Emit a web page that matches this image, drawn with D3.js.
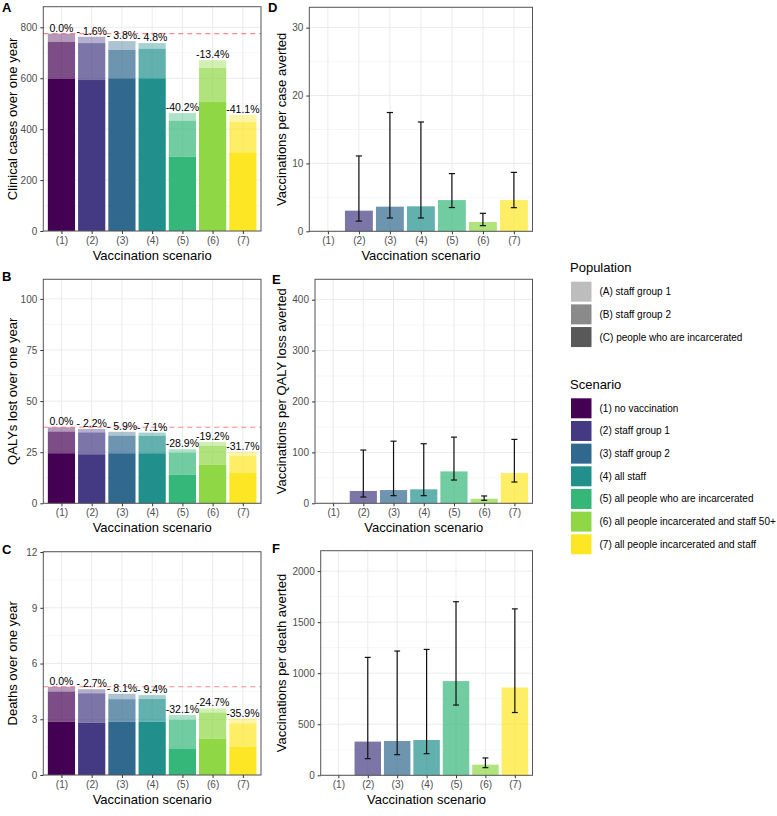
<!DOCTYPE html>
<html><head><meta charset="utf-8">
<script src="https://cdn.jsdelivr.net/npm/d3@7"></script>
<style>body{margin:0;background:#fff}svg{font-family:"Liberation Sans",Arial,sans-serif}</style>
</head><body>
<svg id="c" width="777" height="816"></svg>
<script>
// ---------------- data ----------------
const scenarios = ["(1)","(2)","(3)","(4)","(5)","(6)","(7)"];
const scenarioNames = ["(1) no vaccination","(2) staff group 1","(3) staff group 2","(4) all staff",
  "(5) all people who are incarcerated","(6) all people incarcerated and staff 50+","(7) all people incarcerated and staff"];
const populationNames = ["(A) staff group 1","(B) staff group 2","(C) people who are incarcerated"];
const scenarioColors = ["#440154","#443A83","#31688E","#21908C","#35B779","#8FD744","#FDE725"];

// Panel A: clinical cases (C people incarcerated, B staff group 2, A staff group 1)
const casesPeople = [597,593,600,600,292,507,309];
const casesStaff2 = [146,145,111,116,141,133,119];
const casesStaff1 = [32,25,35,22,30,31,28];
const casesLabels = ["0.0%","- 1.6%","- 3.8%","- 4.8%","-40.2%","-13.4%","-41.1%"];
const casesTicks = [0,200,400,600,800];

// Panel B: QALYs lost
const qalyPeople = [24.5,24.0,24.5,24.5,14.0,18.8,14.8];
const qalyStaff2 = [10.6,10.7,8.6,8.5,10.8,9.4,8.4];
const qalyStaff1 = [2.1,1.7,1.9,1.6,1.65,1.85,2.0];
const qalyLabels = ["0.0%","- 2.2%","- 5.9%","- 7.1%","-28.9%","-19.2%","-31.7%"];
const qalyTicks = [0,25,50,75,100];

// Panel C: deaths
const deathPeople = [2.87,2.82,2.87,2.87,1.40,1.96,1.51];
const deathStaff2 = [1.62,1.58,1.21,1.22,1.56,1.40,1.27];
const deathStaff1 = [0.26,0.22,0.29,0.21,0.27,0.22,0.26];
const deathLabels = ["0.0%","- 2.7%","- 8.1%","- 9.4%","-32.1%","-24.7%","-35.9%"];
const deathTicks = [0,3,6,9,12];

// Panel D: vaccinations per case averted
const perCase   = [0,3.04,3.63,3.68,4.6,1.37,4.6];
const perCaseLo = [null,1.5,1.96,1.96,3.5,0.83,3.48];
const perCaseHi = [null,11.1,17.5,16.1,8.5,2.65,8.68];
const perCaseTicks = [0,10,20,30];

// Panel E: vaccinations per QALY loss averted
const perQaly   = [0,24.2,26,27.5,62.7,9,59.5];
const perQalyLo = [null,12.4,15,15,45.7,5.9,41.8];
const perQalyHi = [null,104.6,122,117,130,14.4,125.5];
const perQalyTicks = [0,100,200,300,400];

// Panel F: vaccinations per death averted
const perDeath   = [0,330,336,346,923,104,860];
const perDeathLo = [null,163,202,212,688,75,615];
const perDeathHi = [null,1155,1217,1233,1700,170,1630];
const perDeathTicks = [0,500,1000,1500,2000];

const layerAlpha = {C:1, B:0.7, A:0.4};

// ---------------- drawing ----------------
const svg = d3.select("#c");

function frame(cfg){
  const g = svg.append("g");
  const x = d3.scalePoint().domain(scenarios).range([cfg.x0,cfg.x1]).padding(0.6);
  const y = d3.scaleLinear().domain([0,cfg.top]).range([cfg.y1,cfg.y0]);
  const step = x.step();
  const minor = [];
  for(let i=0;i<cfg.ticks.length-1;i++) minor.push((cfg.ticks[i]+cfg.ticks[i+1])/2);
  const last = cfg.ticks[cfg.ticks.length-1], d = cfg.ticks[1]-cfg.ticks[0];
  if(last + d/2 < cfg.top) minor.push(last + d/2);
  g.selectAll(".mn").data(minor).join("line")
    .attr("x1",cfg.x0).attr("x2",cfg.x1).attr("y1",v=>y(v)).attr("y2",v=>y(v))
    .attr("stroke","#F2F2F2").attr("stroke-width",0.7);
  g.selectAll(".mj").data(cfg.ticks).join("line")
    .attr("x1",cfg.x0).attr("x2",cfg.x1).attr("y1",v=>y(v)).attr("y2",v=>y(v))
    .attr("stroke","#EBEBEB").attr("stroke-width",1);
  g.selectAll(".vx").data(scenarios).join("line")
    .attr("x1",s=>x(s)).attr("x2",s=>x(s)).attr("y1",cfg.y0).attr("y2",cfg.y1)
    .attr("stroke","#EBEBEB").attr("stroke-width",1);
  return {g,x,y,step};
}

function finish(cfg,f){
  const {g,x,y} = f;
  g.append("rect").attr("x",cfg.x0).attr("y",cfg.y0).attr("width",cfg.x1-cfg.x0).attr("height",cfg.y1-cfg.y0)
    .attr("fill","none").attr("stroke","#555").attr("stroke-width",1);
  const ya = g.append("g").attr("transform",`translate(${cfg.x0},0)`)
    .call(d3.axisLeft(y).tickValues(cfg.ticks).tickSize(3).tickPadding(3).tickFormat(d3.format("d")));
  ya.select(".domain").remove();
  ya.selectAll("line").attr("stroke","#333");
  ya.selectAll("text").attr("fill","#4D4D4D").style("font-size","10px").style("font-family","Liberation Sans, Arial, sans-serif");
  const xa = g.append("g").attr("transform",`translate(0,${cfg.y1})`)
    .call(d3.axisBottom(x).tickSize(3).tickPadding(3));
  xa.select(".domain").remove();
  xa.selectAll("line").attr("stroke","#333");
  xa.selectAll("text").attr("fill","#4D4D4D").style("font-size","10px").style("font-family","Liberation Sans, Arial, sans-serif");
  g.append("text").attr("x",(cfg.x0+cfg.x1)/2).attr("y",cfg.y1+29).attr("text-anchor","middle")
    .style("font-size","13px").attr("fill","#000").text("Vaccination scenario");
  g.append("text").attr("transform",`translate(${cfg.ytx},${(cfg.y0+cfg.y1)/2}) rotate(-90)`)
    .attr("text-anchor","middle").attr("dominant-baseline","central")
    .style("font-size","13px").attr("fill","#000").text(cfg.ylab);
  g.append("text").attr("x",cfg.lx).attr("y",cfg.ly).attr("dominant-baseline","central")
    .style("font-size","13px").style("font-weight","bold").text(cfg.letter);
}

function stackedPanel(cfg, people, staff2, staff1, labels){
  const f = frame(cfg);
  const {g,x,y,step} = f;
  const rows = scenarios.map((s,i)=>({s, i, C:people[i], B:staff2[i], A:staff1[i]}));
  const series = d3.stack().keys(["C","B","A"])(rows);
  const bw = step*0.9;
  series.forEach(ser=>{
    g.selectAll(null).data(ser).join("rect")
      .attr("x",d=>x(d.data.s)-bw/2).attr("width",bw)
      .attr("y",d=>y(d[1])).attr("height",d=>y(d[0])-y(d[1]))
      .attr("fill",d=>scenarioColors[d.data.i]).attr("fill-opacity",layerAlpha[ser.key]);
  });
  const totals = rows.map(r=>r.A+r.B+r.C);
  g.append("line").attr("x1",cfg.x0).attr("x2",cfg.x1).attr("y1",y(totals[0])).attr("y2",y(totals[0]))
    .attr("stroke","#FF5555").attr("stroke-opacity",0.7).attr("stroke-width",1.2).attr("stroke-dasharray","5,4");
  g.selectAll(null).data(rows).join("text")
    .attr("x",r=>x(r.s)).attr("y",r=>y(totals[r.i])-2).attr("text-anchor","middle")
    .style("font-size","10.5px").attr("fill","#000").text(r=>labels[r.i]);
  finish(cfg,f);
}

function errPanel(cfg, vals, lo, hi){
  const f = frame(cfg);
  const {g,x,y,step} = f;
  const bw = step*0.9, cw = step*0.2;
  const rows = scenarios.map((s,i)=>({s,i,v:vals[i],lo:lo[i],hi:hi[i]}));
  g.selectAll(null).data(rows.filter(r=>r.v>0)).join("rect")
    .attr("x",r=>x(r.s)-bw/2).attr("width",bw).attr("y",r=>y(r.v)).attr("height",r=>y(0)-y(r.v))
    .attr("fill",r=>scenarioColors[r.i]).attr("fill-opacity",0.7);
  const eb = g.selectAll(null).data(rows.filter(r=>r.hi!=null)).join("g");
  eb.append("line").attr("x1",r=>x(r.s)).attr("x2",r=>x(r.s)).attr("y1",r=>y(r.lo)).attr("y2",r=>y(r.hi));
  eb.append("line").attr("x1",r=>x(r.s)-cw/2).attr("x2",r=>x(r.s)+cw/2).attr("y1",r=>y(r.lo)).attr("y2",r=>y(r.lo));
  eb.append("line").attr("x1",r=>x(r.s)-cw/2).attr("x2",r=>x(r.s)+cw/2).attr("y1",r=>y(r.hi)).attr("y2",r=>y(r.hi));
  eb.selectAll("line").attr("stroke","#111").attr("stroke-width",1.2);
  finish(cfg,f);
}

stackedPanel({x0:43.3,x1:261,y0:6.7,y1:231,top:881,ticks:casesTicks,ylab:"Clinical cases over one year",ytx:12,letter:"A",lx:2,ly:7},
  casesPeople,casesStaff2,casesStaff1,casesLabels);
stackedPanel({x0:43.3,x1:261,y0:279.3,y1:503.3,top:109.6,ticks:qalyTicks,ylab:"QALYs lost over one year",ytx:12,letter:"B",lx:2,ly:276},
  qalyPeople,qalyStaff2,qalyStaff1,qalyLabels);
stackedPanel({x0:43.3,x1:261,y0:551.7,y1:775,top:12.02,ticks:deathTicks,ylab:"Deaths over one year",ytx:12,letter:"C",lx:2,ly:549},
  deathPeople,deathStaff2,deathStaff1,deathLabels);

errPanel({x0:309.3,x1:532.5,y0:7.3,y1:231.3,top:33,ticks:perCaseTicks,ylab:"Vaccinations per case averted",ytx:281,letter:"D",lx:268,ly:7},
  perCase,perCaseLo,perCaseHi);
errPanel({x0:315,x1:532.5,y0:279.3,y1:503.3,top:440,ticks:perQalyTicks,ylab:"Vaccinations per QALY loss averted",ytx:281,letter:"E",lx:272,ly:279},
  perQaly,perQalyLo,perQalyHi);
errPanel({x0:320.7,x1:532.5,y0:550.7,y1:775.3,top:2200,ticks:perDeathTicks,ylab:"Vaccinations per death averted",ytx:281,letter:"F",lx:272,ly:548},
  perDeath,perDeathLo,perDeathHi);

// ---------------- legends ----------------
const lg = svg.append("g");
lg.append("text").attr("x",570).attr("y",267).attr("dominant-baseline","central").style("font-size","13px").text("Population");
lg.selectAll(null).data(populationNames).join("rect")
  .attr("x",571).attr("y",(d,i)=>281.7+i*22.67).attr("width",20.5).attr("height",20)
  .attr("fill","#595959").attr("fill-opacity",(d,i)=>[0.4,0.7,1][i]);
lg.selectAll(null).data(populationNames).join("text")
  .attr("x",599.5).attr("y",(d,i)=>291.7+i*22.67).attr("dominant-baseline","central")
  .style("font-size","10px").text(d=>d);

lg.append("text").attr("x",570).attr("y",384.3).attr("dominant-baseline","central").style("font-size","13px").text("Scenario");
lg.selectAll(null).data(scenarioNames).join("rect")
  .attr("x",571).attr("y",(d,i)=>398.3+i*22.67).attr("width",20.5).attr("height",20)
  .attr("fill",(d,i)=>scenarioColors[i]);
lg.selectAll(null).data(scenarioNames).join("text")
  .attr("x",599.5).attr("y",(d,i)=>408.3+i*22.67).attr("dominant-baseline","central")
  .style("font-size","10px").text(d=>d);
</script>
</body></html>
